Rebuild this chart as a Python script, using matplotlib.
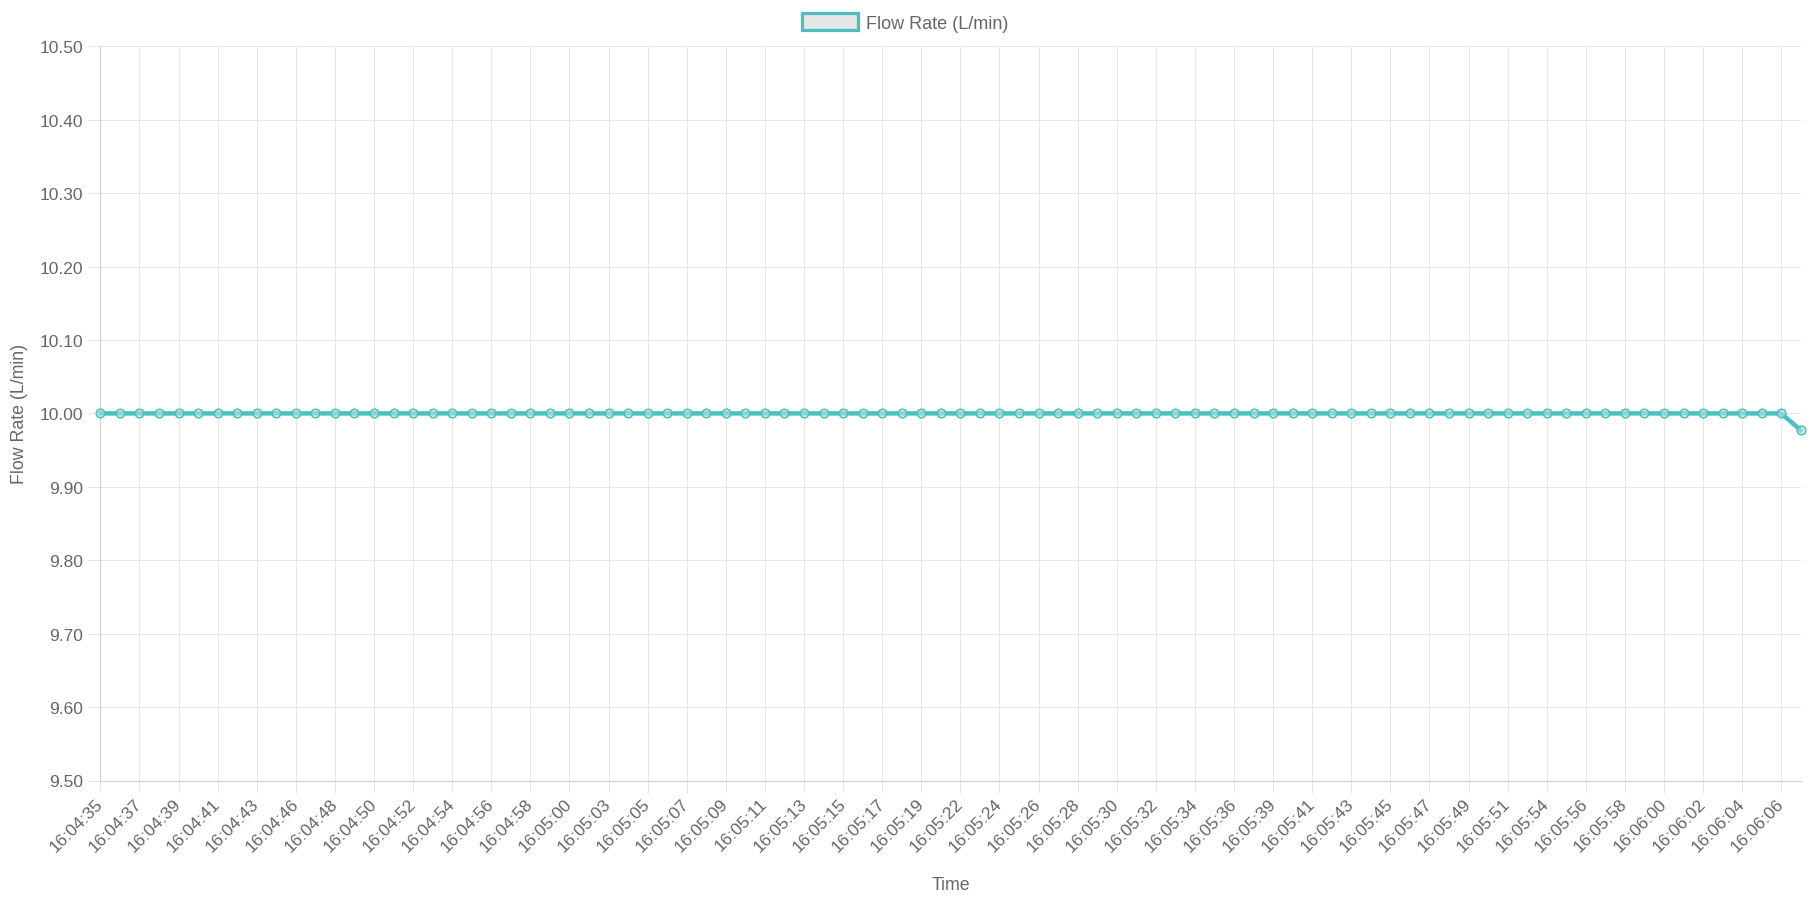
import matplotlib
matplotlib.use("Agg")
import matplotlib.pyplot as plt
from matplotlib.patches import Patch

# ---- data ----
times = [
    "16:04:35", "16:04:36", "16:04:37", "16:04:38", "16:04:39", "16:04:40",
    "16:04:41", "16:04:42", "16:04:43", "16:04:44", "16:04:46", "16:04:47",
    "16:04:48", "16:04:49", "16:04:50", "16:04:51", "16:04:52", "16:04:53",
    "16:04:54", "16:04:55", "16:04:56", "16:04:57", "16:04:58", "16:04:59",
    "16:05:00", "16:05:02", "16:05:03", "16:05:04", "16:05:05", "16:05:06",
    "16:05:07", "16:05:08", "16:05:09", "16:05:10", "16:05:11", "16:05:12",
    "16:05:13", "16:05:14", "16:05:15", "16:05:16", "16:05:17", "16:05:18",
    "16:05:19", "16:05:21", "16:05:22", "16:05:23", "16:05:24", "16:05:25",
    "16:05:26", "16:05:27", "16:05:28", "16:05:29", "16:05:30", "16:05:31",
    "16:05:32", "16:05:33", "16:05:34", "16:05:35", "16:05:36", "16:05:38",
    "16:05:39", "16:05:40", "16:05:41", "16:05:42", "16:05:43", "16:05:44",
    "16:05:45", "16:05:46", "16:05:47", "16:05:48", "16:05:49", "16:05:50",
    "16:05:51", "16:05:53", "16:05:54", "16:05:55", "16:05:56", "16:05:57",
    "16:05:58", "16:05:59", "16:06:00", "16:06:01", "16:06:02", "16:06:03",
    "16:06:04", "16:06:05", "16:06:06", "16:06:07",
]
flow_rate = [10.00] * 87 + [9.977]
series_name = "Flow Rate (L/min)"
y_ticks = [9.50, 9.60, 9.70, 9.80, 9.90, 10.00, 10.10, 10.20, 10.30, 10.40, 10.50]

# ---- style ----
plt.rcParams['font.family'] = ['Liberation Sans', 'DejaVu Sans']
TEXT = '#666666'
GRID = '#e6e6e6'
TEAL = '#4bc0c0'
px = 72 / 100.0  # points per pixel at dpi 100

W, H = 1810, 904
fig = plt.figure(figsize=(W / 100, H / 100), dpi=100)
left, right, top, bottom = 100.4, 1800.8, 47.3, 781.5
ax = fig.add_axes([left / W, 1 - bottom / H, (right - left) / W, (bottom - top) / H])

x = list(range(len(times)))
ax.plot(x, flow_rate, color=TEAL, lw=4.5 * px, marker='o', ms=8.5 * px,
        mec=TEAL, mew=1.6 * px, mfc=(0.9, 0.9, 0.9, 0.45), zorder=3,
        solid_joinstyle='miter', clip_on=False)

ax.set_xlim(0, len(times) - 1)
ax.set_ylim(y_ticks[0], y_ticks[-1])
ax.set_yticks(y_ticks)
ax.set_yticklabels([f"{v:.2f}" for v in y_ticks])
ax.set_xticks(x[::2])
ax.set_xticklabels(times[::2], rotation=45, ha='right', va='center',
                   rotation_mode='anchor')

ax.grid(True, color=GRID, lw=1.0 * px)
ax.set_axisbelow(True)
ax.tick_params(axis='both', colors=GRID, labelcolor=TEXT, labelsize=12.5,
               length=12 * px, width=1.0 * px)
ax.tick_params(axis='y', pad=5 * px)
ax.tick_params(axis='x', pad=8 * px)
for s in ('top', 'right'):
    ax.spines[s].set_visible(False)
for s in ('left', 'bottom'):
    ax.spines[s].set_color('#d2d2d2')
    ax.spines[s].set_linewidth(1.2 * px)

fig.text(19 / W, 1 - 414 / H, series_name, rotation=90, ha='center', va='center',
         color=TEXT, fontsize=12.8)
fig.text(951 / W, 1 - 886 / H, "Time", ha='center', va='center',
         color=TEXT, fontsize=12.8)

handle = Patch(facecolor='#e6e6e6', edgecolor=TEAL, linewidth=3.2 * px)
fig.legend(handles=[handle], labels=[series_name], loc='center',
           bbox_to_anchor=(0.5, 1 - 23.5 / H), frameon=False, fontsize=13,
           labelcolor=TEXT, handlelength=3.1, handleheight=1.0,
           handletextpad=0.45, borderpad=0, borderaxespad=0)

fig.savefig("out.png", dpi=100, facecolor='white')
